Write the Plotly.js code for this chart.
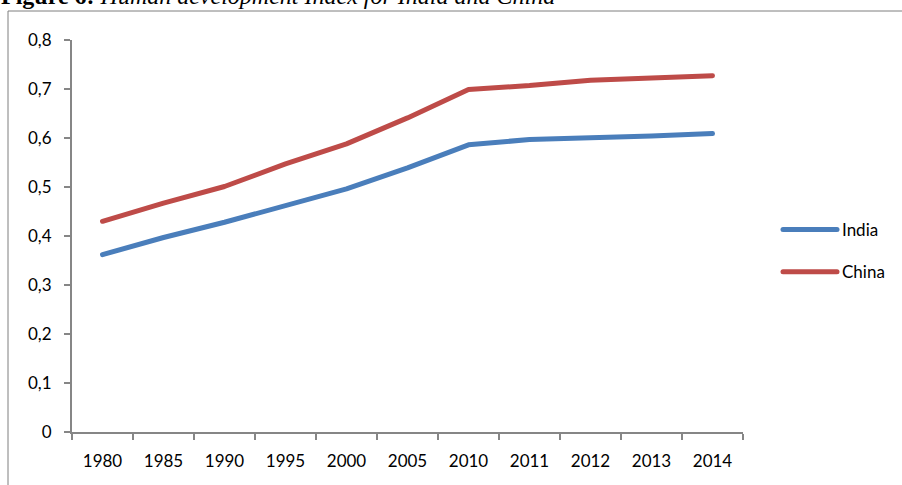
<!DOCTYPE html>
<html>
<head>
<meta charset="utf-8">
<script src="https://cdn.plot.ly/plotly-3.0.1.min.js"></script>
<style>
  html, body { margin: 0; padding: 0; background: #fff; }
  #chart { width: 902px; height: 485px; }
  .scatterlayer path.js-line { stroke-linecap: round; stroke-linejoin: round; }
  .legend path.js-line { stroke-linecap: round; }
</style>
</head>
<body>
<div id="chart"></div>
<script>
// Human Development Index, India and China
const years = ['1980', '1985', '1990', '1995', '2000', '2005', '2010', '2011', '2012', '2013', '2014'];
const india = [0.362, 0.397, 0.428, 0.462, 0.496, 0.539, 0.586, 0.597, 0.600, 0.604, 0.609];
const china = [0.430, 0.467, 0.501, 0.547, 0.588, 0.641, 0.699, 0.707, 0.718, 0.723, 0.727];
const seriesNames = ['India', 'China'];
const seriesColors = ['#4a7ebb', '#be4b48'];

const W = 902, H = 485;
const M = { l: 72, r: 159, t: 40, b: 53, autoexpand: false };
const PW = W - M.l - M.r, PH = H - M.t - M.b;
const px = x => (x - M.l) / PW;          // pixel -> paper x
const py = y => (H - M.b - y) / PH;      // pixel -> paper y

const font = { family: 'Lato, "Open Sans", sans-serif', size: 17, color: '#000' };
const axisGrey = '#868686';

const traces = [india, china].map((vals, i) => ({
  type: 'scatter',
  mode: 'lines',
  x: years,
  y: vals,
  name: seriesNames[i],
  legendgroup: seriesNames[i],
  line: { color: seriesColors[i], width: 5 },
  hoverinfo: 'x+y+name'
}));

const layout = {
  width: W,
  height: H,
  margin: M,
  paper_bgcolor: '#fff',
  plot_bgcolor: '#fff',
  font: font,
  separators: ', ',
  showlegend: true,
  legend: {
    x: px(778), y: py(212), xanchor: 'left', yanchor: 'top',
    font: font,
    traceorder: 'grouped',
    tracegroupgap: 17,
    itemwidth: 54,
    bgcolor: 'rgba(0,0,0,0)'
  },
  xaxis: {
    type: 'category',
    range: [-0.5, years.length - 0.5],
    showline: true, linecolor: axisGrey, linewidth: 2,
    ticks: 'outside', tickson: 'boundaries', ticklen: 6, tickwidth: 2, tickcolor: axisGrey,
    showgrid: false, zeroline: false,
    ticklabelstandoff: 13,
    tickfont: font
  },
  yaxis: {
    range: [0, 0.8],
    dtick: 0.1,
    showline: true, linecolor: axisGrey, linewidth: 2,
    ticks: 'outside', ticklen: 6, tickwidth: 2, tickcolor: axisGrey,
    showgrid: false, zeroline: false,
    ticklabelstandoff: 9,
    tickfont: font
  },
  shapes: [{
    type: 'rect', xref: 'paper', yref: 'paper',
    x0: px(8), x1: px(1200), y0: py(800), y1: py(11),
    line: { color: '#7f7f7f', width: 1 },
    fillcolor: 'rgba(0,0,0,0)',
    layer: 'below'
  }],
  annotations: [{
    xref: 'paper', yref: 'paper',
    x: px(-1), y: py(11),
    xanchor: 'left', yanchor: 'bottom',
    showarrow: false,
    text: '<b>Figure 6:</b> <i>Human development Index for India and China</i>',
    font: { family: '"Liberation Serif", "Times New Roman", serif', size: 24, color: '#000' }
  }]
};

Plotly.newPlot('chart', traces, layout, { displayModeBar: false, staticPlot: true });
</script>
</body>
</html>
